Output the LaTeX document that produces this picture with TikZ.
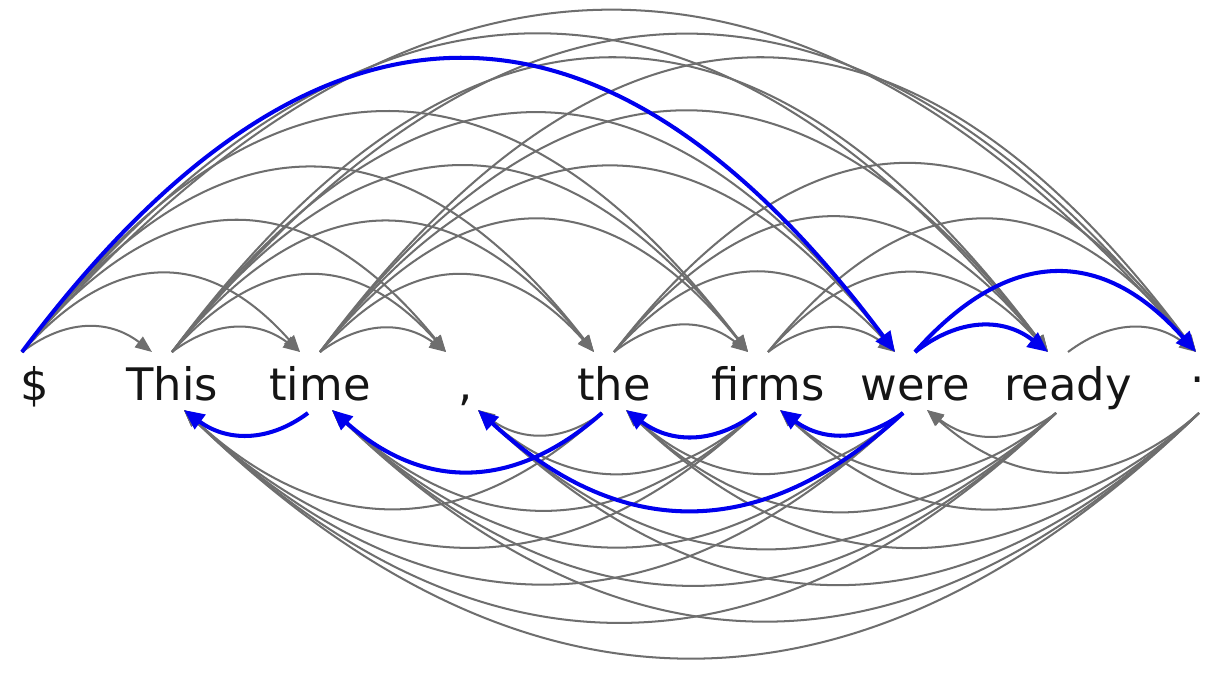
\documentclass[tikz,border=0pt]{standalone}
\usepackage{fontspec}
\setmainfont{DejaVu Sans}
\usepackage{tikz}
\usetikzlibrary{arrows.meta,calc}
\definecolor{dpGray}{HTML}{6E6E6E}
\definecolor{dpBlue}{HTML}{0000EE}
\definecolor{dpInk}{HTML}{151515}

\begin{document}
\begin{tikzpicture}[
  x=0.02cm, y=-0.02cm,
  word/.style={anchor=base, inner sep=0pt, text=dpInk, font=\fontsize{25.5}{30}\selectfont},
  cand/.style={draw=dpGray, line width=1.15pt, -{Triangle[length=9.5pt, width=7.5pt]}},
  gold/.style={draw=dpBlue, line width=2.3pt, -{Triangle[length=11.5pt, width=10pt]}},
  over/.style={to path={let \p1=(\tikztostart), \p2=(\tikztotarget),
      \n1={(\x2-\x1)/3},
      \n2={4/3*min(0.36*abs(\x2-\x1)-12.52, 0.16*abs(\x2-\x1)+87.06)} in
      .. controls (\x1+\n1,\y1+\n2) and (\x2-\n1,\y2+\n2) .. (\tikztotarget)}},
  under/.style={to path={let \p1=(\tikztostart), \p2=(\tikztotarget),
      \n1={(\x2-\x1)/3},
      \n2={4/3*(0.25*abs(\x2-\x1)-4.55)} in
      .. controls (\x1+\n1,\y1-\n2) and (\x2-\n1,\y2-\n2) .. (\tikztotarget)}},
]
\path[use as bounding box, fill=white] (0,0) rectangle (1207,676);

% ---- Words ----
\foreach \n/\x/\w in {root/35/\$, this/172/This, time/320/time, comma/466/{,},
                      the/614/the, firms/768/firms, were/915/were, ready/1068/ready} {
  \node[word] (\n) at (\x,400) {\w};
  \coordinate (\n-ao) at (\x,352);
  \coordinate (\n-ai) at (\x-20,352);
  \coordinate (\n-bo) at (\x-12,413);
  \coordinate (\n-bi) at (\x+12,410);
}
\node[word] (stop) at (1198,382) {.};
\coordinate (stop-ai) at (1196,352);
\coordinate (stop-bo) at (1199,413);
\coordinate (root-ao) at (22,352);

% ---- Candidate arcs, head on the left ----
\foreach \h/\d in {root/this, root/time, root/comma, root/the, root/firms, root/ready, root/stop,
                   this/time, this/comma, this/the, this/firms, this/were, this/ready, this/stop,
                   time/comma, time/the, time/firms, time/were, time/ready, time/stop,
                   the/firms, the/were, the/ready, the/stop,
                   firms/were, firms/ready, firms/stop, ready/stop}
  \draw[cand, over] (\h-ao) to (\d-ai);

% ---- Candidate arcs, head on the right ----
\foreach \h/\d in {the/this, the/comma,
                   firms/this, firms/time, firms/comma,
                   were/this, were/time, were/the,
                   ready/this, ready/time, ready/comma, ready/the, ready/firms, ready/were,
                   stop/this, stop/time, stop/comma, stop/the, stop/firms, stop/were}
  \draw[cand, under] (\h-bo) to (\d-bi);

% ---- Gold tree ----
\foreach \h/\d in {root/were, were/ready, were/stop}
  \draw[gold, over] (\h-ao) to (\d-ai);
\foreach \h/\d in {time/this, the/time, firms/the, were/firms, were/comma}
  \draw[gold, under] (\h-bo) to (\d-bi);

\end{tikzpicture}
\end{document}
